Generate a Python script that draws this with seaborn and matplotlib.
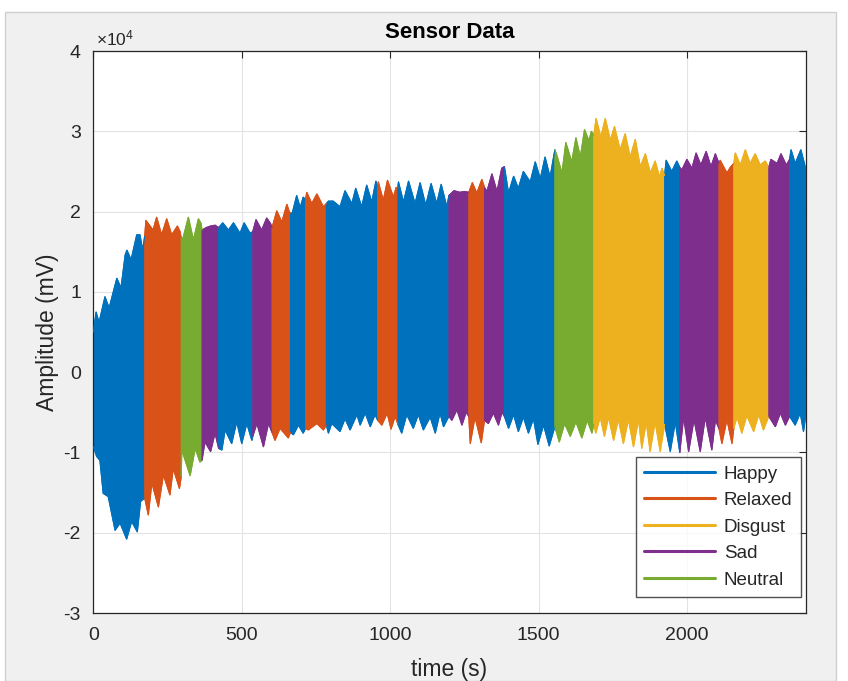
import numpy as np
import pandas as pd
import matplotlib
matplotlib.use("Agg")
import matplotlib.pyplot as plt
from matplotlib.patches import Rectangle
from matplotlib.ticker import FuncFormatter
import seaborn as sns

# ---------------- data ----------------
emotions = ["Happy", "Relaxed", "Disgust", "Sad", "Neutral"]
colors = ["#0072BD", "#D95319", "#EDB120", "#7E2F8E", "#77AC30"]

seg_bounds = [0, 173, 296, 366, 422, 537, 602, 664, 715, 785, 958, 1026, 1198,
              1265, 1318, 1385, 1555, 1686, 1925, 1976, 2108, 2158, 2276, 2346, 2400]
seg_labels = ["Happy", "Relaxed", "Neutral", "Sad", "Happy", "Sad", "Relaxed", "Happy",
              "Relaxed", "Happy", "Relaxed", "Happy", "Sad", "Relaxed", "Sad", "Happy",
              "Neutral", "Disgust", "Happy", "Sad", "Relaxed", "Disgust", "Sad", "Happy"]

# upper envelope of the signal (peaks / notches), time in s, amplitude in mV
upper_t = [0, 9, 19, 39, 53, 79, 93, 107, 113, 127, 146, 157, 166, 173,
           177, 201, 213, 230, 247, 264, 283, 292, 296,
           302, 320, 337, 354, 363, 366,
           380, 395, 410, 422,
           436, 455, 472, 494, 508, 528, 537,
           548, 567, 584, 597, 602,
           618, 635, 652, 660, 664,
           670, 685, 697, 707, 715,
           719, 736, 753, 775, 785,
           792, 808, 831, 848, 871, 884, 904, 921, 938, 952, 958,
           960, 977, 991, 1011, 1020, 1026,
           1028, 1045, 1062, 1084, 1101, 1120, 1138, 1157, 1172, 1191, 1198,
           1215, 1235, 1250, 1265,
           1277, 1292, 1309, 1318,
           1326, 1343, 1360, 1376, 1385,
           1399, 1416, 1432, 1449, 1472, 1489, 1506, 1522, 1539, 1555,
           1562, 1579, 1592, 1612, 1626, 1641, 1655, 1670, 1678, 1686,
           1694, 1710, 1725, 1742, 1756, 1775, 1792, 1809, 1826, 1843, 1860, 1877, 1893, 1908, 1916, 1925,
           1930, 1949, 1966, 1976,
           1983, 2000, 2017, 2031, 2047, 2065, 2081, 2096, 2108,
           2112, 2135, 2146, 2158,
           2163, 2180, 2197, 2213, 2230, 2247, 2264, 2276,
           2283, 2304, 2317, 2335, 2346,
           2351, 2365, 2384, 2400]
upper_v = [5000, 7500, 6200, 9400, 8000, 11700, 10500, 14600, 15200, 14000, 17100, 17100, 15200, 17000,
           18900, 17700, 19300, 17100, 19100, 17100, 18200, 17500, 16700,
           16700, 19300, 16500, 19100, 18500, 17700,
           18000, 18200, 18300, 18000,
           18600, 17700, 18600, 17300, 18600, 17300, 17500,
           19000, 17700, 19200, 18500, 18000,
           20100, 18700, 20900, 20000, 19800,
           19800, 22000, 20500, 21800, 21500,
           22400, 21000, 22200, 20600, 21000,
           21300, 21300, 20600, 22600, 21000, 22900, 20600, 23300, 21200, 23800, 23000,
           23700, 21400, 23900, 21800, 23000, 23000,
           23700, 21200, 23800, 21000, 23600, 20800, 23500, 21000, 23400, 20600, 22000,
           22600, 22400, 22500, 22400,
           23600, 22300, 24000, 23000,
           22500, 24700, 22500, 25400, 25600,
           22300, 24400, 22900, 25000, 23700, 26200, 24100, 26800, 24300, 27700,
           27000, 24800, 28600, 26200, 29200, 26800, 30200, 28800, 30000, 29500,
           31600, 29300, 31600, 28900, 30600, 27700, 29700, 26800, 29000, 25600, 27200, 24800, 26300, 24300, 25400, 24500,
           26400, 25000, 26300, 25500,
           25200, 26500, 25400, 27300, 25800, 27500, 25600, 27200, 26000,
           26400, 24800, 25500, 26000,
           27300, 25800, 27700, 26000, 27200, 25800, 26300, 25500,
           26500, 26000, 27200, 25800, 26500,
           27700, 26000, 27700, 25400]

# lower envelope of the signal (troughs / notches)
lower_t = [0, 11, 22, 33, 50, 73, 90, 112, 129, 148, 159, 173,
           185, 197, 219, 236, 258, 269, 290, 296,
           298, 326, 343, 359, 366,
           376, 395, 410, 422,
           433, 444, 466, 483, 500, 517, 534, 537,
           551, 573, 590, 602,
           612, 629, 657, 664,
           674, 691, 707, 715,
           724, 753, 775, 785,
           792, 803, 831, 848, 865, 888, 899, 916, 933, 949, 958,
           972, 990, 1003, 1017, 1026,
           1039, 1056, 1078, 1095, 1112, 1135, 1152, 1168, 1180, 1198,
           1208, 1225, 1242, 1256, 1265,
           1270, 1286, 1307, 1318,
           1331, 1348, 1365, 1377, 1385,
           1399, 1416, 1432, 1449, 1466, 1483, 1498, 1517, 1536, 1555,
           1570, 1588, 1607, 1626, 1646, 1664, 1680, 1686,
           1693, 1708, 1722, 1736, 1753, 1769, 1786, 1803, 1820, 1837, 1848, 1863, 1876, 1893, 1910, 1925,
           1944, 1961, 1976,
           1989, 2006, 2024, 2045, 2062, 2084, 2096, 2108,
           2118, 2135, 2152, 2158,
           2169, 2185, 2202, 2225, 2242, 2258, 2276,
           2298, 2315, 2332, 2346,
           2365, 2382, 2393, 2400]
lower_v = [-9300, -10500, -11000, -15100, -15500, -19700, -18800, -20800, -18600, -19900, -16100, -15700,
           -17800, -13800, -16800, -12800, -15300, -12000, -14500, -13000,
           -9700, -12900, -9500, -11200, -11000,
           -8700, -9900, -7600, -9500,
           -9700, -7200, -8900, -6200, -8900, -6400, -8500, -8000,
           -6400, -9300, -6400, -7500,
           -8500, -7000, -8200, -7500,
           -7800, -6600, -7600, -7000,
           -7200, -6400, -7200, -6600,
           -7600, -6400, -7400, -5800, -7200, -5300, -6600, -5100, -6800, -5300, -6000,
           -6600, -5100, -7100, -5500, -6500,
           -7600, -5300, -7000, -5300, -7200, -5600, -7600, -5100, -6800, -5500,
           -6000, -4700, -6600, -5000, -5500,
           -8900, -5600, -8800, -6000,
           -6400, -5100, -6600, -5000, -5500,
           -7000, -5300, -7400, -5600, -7600, -5800, -9000, -6600, -9200, -6800,
           -8700, -6400, -8000, -6200, -8200, -6000, -7600, -6500,
           -7600, -5600, -8000, -5600, -8500, -5900, -8900, -5900, -9300, -5900, -9500, -6200, -9900, -6200, -9900, -6500,
           -9900, -6200, -10000,
           -5600, -9900, -5900, -9900, -5600, -9700, -6000, -7000,
           -8900, -5900, -8900, -7000,
           -5600, -7600, -5400, -7400, -5300, -7200, -5500,
           -6800, -5100, -6600, -5500,
           -6600, -5100, -7400, -5500]

xticks = [0, 500, 1000, 1500, 2000]
yticks = [-30000, -20000, -10000, 0, 10000, 20000, 30000, 40000]
y_exponent = 4

# ---------------- build tables ----------------
ut = np.array(upper_t, float); uv = np.array(upper_v, float)
lt = np.array(lower_t, float); lv = np.array(lower_v, float)
palette = dict(zip(emotions, colors))

rows = []
polys = []
for i, lab in enumerate(seg_labels):
    a, b = seg_bounds[i], seg_bounds[i + 1]
    mu = (ut >= a) & (ut <= b)
    ml = (lt >= a) & (lt <= b)
    for t, v in zip(ut[mu], uv[mu]):
        rows.append((t, v, lab, f"{i}u"))
    for t, v in zip(lt[ml], lv[ml]):
        rows.append((t, v, lab, f"{i}l"))
    xs = np.concatenate([ut[mu], lt[ml][::-1]])
    ys = np.concatenate([uv[mu], lv[ml][::-1]])
    polys.append((xs, ys, lab))
df = pd.DataFrame(rows, columns=["time", "amp", "emotion", "unit"])

# ---------------- style ----------------
sns.set_theme(style="white")
plt.rcParams["font.family"] = ["Liberation Sans", "DejaVu Sans"]
plt.rcParams["mathtext.fontset"] = "custom"
plt.rcParams["mathtext.rm"] = "Liberation Sans"
plt.rcParams["mathtext.it"] = "Liberation Sans:italic"
ink = "#262626"

fig = plt.figure(figsize=(8.48, 6.81), dpi=100)
fig.patch.set_facecolor("white")
fig.add_artist(Rectangle((5 / 848, 0), 831 / 848, 669 / 681, transform=fig.transFigure,
                         facecolor="#f0f0f0", edgecolor="#cfcfcf", lw=1, zorder=-10))
ax = fig.add_axes([93.4 / 848, (681 - 613) / 681, 712.2 / 848, 562 / 681])
ax.set_facecolor("white")

for xs, ys, lab in polys:
    ax.fill(xs, ys, color=palette[lab], lw=0.8, zorder=2)

sns.lineplot(data=df, x="time", y="amp", hue="emotion", units="unit", estimator=None,
             sort=False, hue_order=emotions, palette=palette, lw=0.8, ax=ax, zorder=3)

ax.set_xlim(0, 2400)
ax.set_ylim(-30000, 40000)
ax.set_xticks(xticks)
ax.set_yticks(yticks)
ax.yaxis.set_major_formatter(FuncFormatter(lambda v, p: f"{v / 10 ** y_exponent:g}"))
ax.text(0.004, 1.004, r"$\times10^{%d}$" % y_exponent, transform=ax.transAxes,
        ha="left", va="bottom", fontsize=12.5, color=ink)

ax.grid(True, color="#e3e3e3", lw=0.8)
ax.set_axisbelow(True)
for s in ax.spines.values():
    s.set_color(ink)
    s.set_linewidth(0.9)
    s.set_visible(True)
ax.tick_params(direction="in", length=5, width=0.8, colors=ink, labelsize=14,
               top=True, right=True, labeltop=False, labelright=False, pad=9)
ax.tick_params(axis="x", pad=10)

ax.set_xlabel("time (s)", fontsize=16.5, color=ink, labelpad=10)
ax.set_ylabel("Amplitude (mV)", fontsize=16.5, color=ink, labelpad=3)
ax.set_title("Sensor Data", fontsize=16, fontweight="bold", color="black", pad=9)

handles, labels = ax.get_legend_handles_labels()
leg = ax.legend(handles, labels, loc="lower right", bbox_to_anchor=(0.9935, 0.0285),
                borderaxespad=0, fontsize=13.5, frameon=True, fancybox=False,
                handlelength=3.8, handletextpad=0.45, labelspacing=0.5,
                borderpad=0.45, edgecolor=ink)
leg.get_frame().set_linewidth(1.0)
for ln in leg.get_lines():
    ln.set_linewidth(2.2)
for txt in leg.get_texts():
    txt.set_color(ink)

fig.savefig("out.png", dpi=100, facecolor=fig.get_facecolor())
